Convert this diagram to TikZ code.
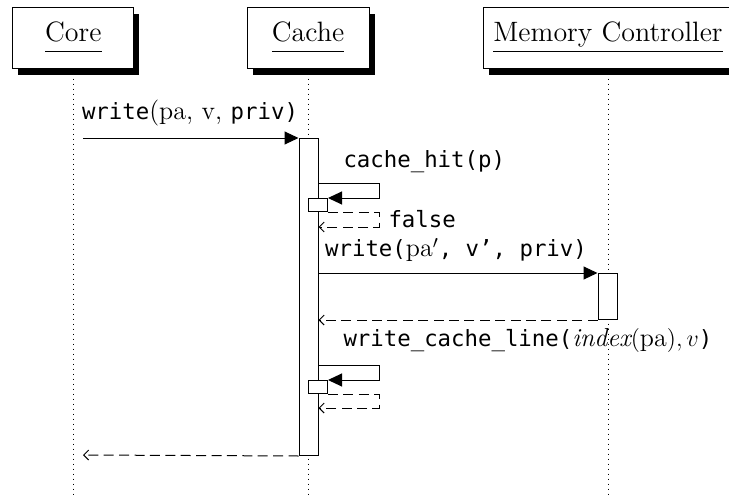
\documentclass[tikz,border=0pt]{standalone}
\usepackage{amsmath}
\usepackage{fontspec}
\setmonofont{DejaVu Sans Mono}[Scale=0.86]
\usepackage{tikz}
\usetikzlibrary{positioning,shadows,arrows.meta}

\begin{document}
\begin{tikzpicture}[x=0.5pt, y=-0.5pt, line width=0.5pt,
		thread/.style={draw, fill=white, rectangle, minimum width=#1, minimum height=30.5pt, inner sep=0pt,
			font=\fontsize{14}{16}\selectfont,
			drop shadow={shadow xshift=2.8pt, shadow yshift=-3.2pt, fill=black, opacity=1}},
		life/.style={dotted},
		act/.style={draw, fill=white, rectangle, minimum width=9.5pt, inner sep=0pt},
		call/.style={-{Triangle[length=7pt, width=6.5pt]}},
		ret/.style={dash pattern=on 5pt off 2.7pt, -{Straight Barb[length=2.5pt, width=5pt]}},
		lbl/.style={inner sep=0pt, font=\fontsize{13}{15}\selectfont}]
	\useasboundingbox (0,0) rectangle (729,498);
	% threads
	\node[thread=60.5pt] (core) at (73.35,37.65) {\underline{Core\vphantom{y}}};
	\node[thread=61pt] (cache) at (308,37.65) {\underline{Cache\vphantom{y}}};
	\node[thread=125pt] (mem) at (608,37.65) {\underline{Memory Controller}};
	\draw[life] (core.south) -- (core.south |- 0,498);
	\draw[life] (cache.south) -- (cache.south |- 0,498);
	\draw[life] (mem.south) -- (mem.south |- 0,498);
	% activations
	\node[act, anchor=north, minimum height=158.5pt] (cacheact) at (308.5,138) {};
	\node[act, anchor=north, minimum height=23pt] (memact) at (607.5,273) {};
	\node[act, anchor=north west, minimum height=6.5pt] (hit) at (308,198) {};
	\node[act, anchor=north west, minimum height=6.5pt] (wcl) at (308,380) {};
	\coordinate (corecall) at (83,138);
	\coordinate (coreret) at (83,455);
	% messages
	\draw[call] (corecall) -- (cacheact.north west);
	\node[lbl] (m1) at (190,113) {\texttt{write}(pa, v, \texttt{priv)}};
	\draw[call] (cacheact.east |- 0,183) -| ([xshift=25.5pt]hit.north east) -- (hit.north east);
	\node[lbl, anchor=west] (m2) at (343,162) {\texttt{cache\_hit(p)}};
	\draw[ret] (hit.south east) -- ++(51,0) |- (cacheact.east |- 0,227);
	\node[lbl, anchor=west] (r2) at (388,219) {\texttt{false}};
	\draw[call] (cacheact.east |- memact.north) -- (memact.north west);
	\node[lbl] (m3) at (456,250) {\texttt{write(}$\mathrm{pa}'$\texttt{, v’, priv)}};
	\draw[ret] (memact.south west) -- (cacheact.east |- memact.south);
	\draw[call] (cacheact.east |- 0,365) -| ([xshift=25.5pt]wcl.north east) -- (wcl.north east);
	\node[lbl, anchor=west] (m4) at (343,340) {\texttt{write\_cache\_line(}$\mathit{index}(\mathrm{pa}),v$\texttt{)}};
	\draw[ret] (wcl.south east) -- ++(51,0) |- (cacheact.east |- 0,408);
	\draw[ret] (cacheact.south west) -- (coreret);
\end{tikzpicture}
\end{document}
